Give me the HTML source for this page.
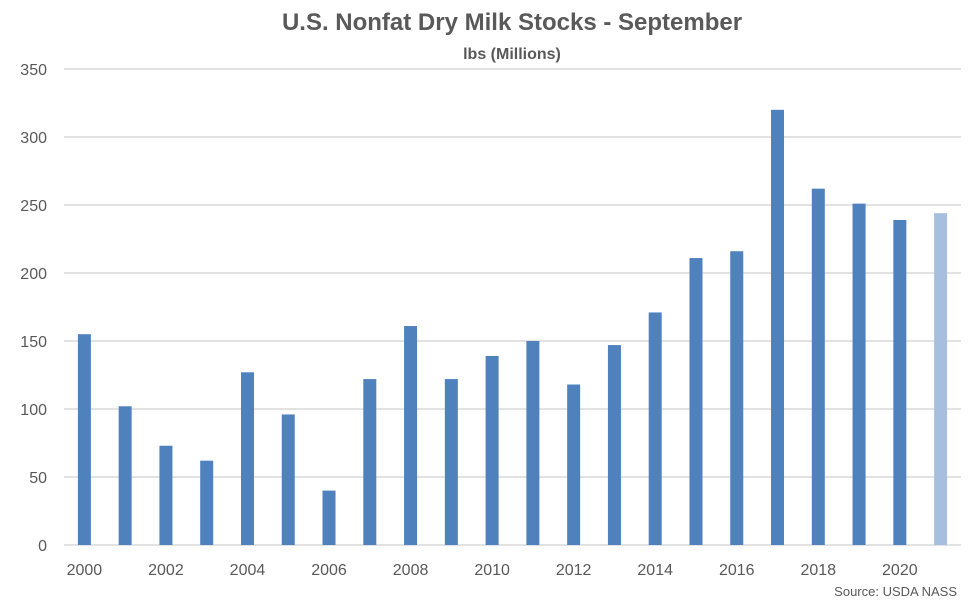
<!DOCTYPE html>
<html><head><meta charset="utf-8"><style>
html,body{margin:0;padding:0;background:#fff;}
svg{display:block;font-family:"Liberation Sans",sans-serif;}
</style></head><body>
<svg id="chart" width="975" height="601" viewBox="0 0 975 601">
<text x="512" y="30" text-anchor="middle" font-size="24" font-weight="bold" fill="#595959">U.S. Nonfat Dry Milk Stocks - September</text>
<text x="512" y="59" text-anchor="middle" font-size="16" font-weight="bold" fill="#595959">lbs (Millions)</text>
<g id="grid"></g><g id="bars"></g><g id="xlabels"></g>
<text x="957" y="596" text-anchor="end" font-size="13" fill="#595959">Source: USDA NASS</text>
</svg>
<script>
const years = [2000,2001,2002,2003,2004,2005,2006,2007,2008,2009,2010,2011,2012,2013,2014,2015,2016,2017,2018,2019,2020,2021];
const values = [155,102,73,62,127,96,40,122,161,122,139,150,118,147,171,211,216,320,262,251,239,244];
const yTicks = [0,50,100,150,200,250,300,350];
const xLabelYears = [2000,2002,2004,2006,2008,2010,2012,2014,2016,2018,2020];
const ns="http://www.w3.org/2000/svg";
const L=64,R=961,Y0=545,PX=1.36;
const band=(R-L)/years.length;
const y=v=>Y0-v*PX;
const xc=i=>L+band*(i+0.5);
const grid=document.getElementById('grid');
yTicks.forEach(t=>{
 const ln=document.createElementNS(ns,'line');
 ln.setAttribute('x1',L);ln.setAttribute('x2',R);ln.setAttribute('y1',y(t));ln.setAttribute('y2',y(t));
 ln.setAttribute('stroke','#d9d9d9');ln.setAttribute('stroke-width','1.5');
 
 
 grid.appendChild(ln);
 const tx=document.createElementNS(ns,'text');
 tx.setAttribute('x',47);tx.setAttribute('y',y(t)+6);tx.setAttribute('text-anchor','end');
 tx.setAttribute('font-size','16');tx.setAttribute('fill','#595959');tx.textContent=t;
 
 
 grid.appendChild(tx);
});
const bars=document.getElementById('bars');
values.forEach((v,i)=>{
 const r=document.createElementNS(ns,'rect');
 r.setAttribute('x',xc(i)-6.5);r.setAttribute('width',13);
 r.setAttribute('y',y(v));r.setAttribute('height',v*PX);
 r.setAttribute('fill',i===values.length-1?'#a7bfde':'#4f81bd');
 
 
 bars.appendChild(r);
});
const xl=document.getElementById('xlabels');
xLabelYears.forEach(yr=>{
 const i=years.indexOf(yr);
 const tx=document.createElementNS(ns,'text');
 tx.setAttribute('x',xc(i));tx.setAttribute('y',575);tx.setAttribute('text-anchor','middle');
 tx.setAttribute('font-size','16');tx.setAttribute('fill','#595959');tx.textContent=yr;
 
 
 xl.appendChild(tx);
});
</script>
</body></html>
